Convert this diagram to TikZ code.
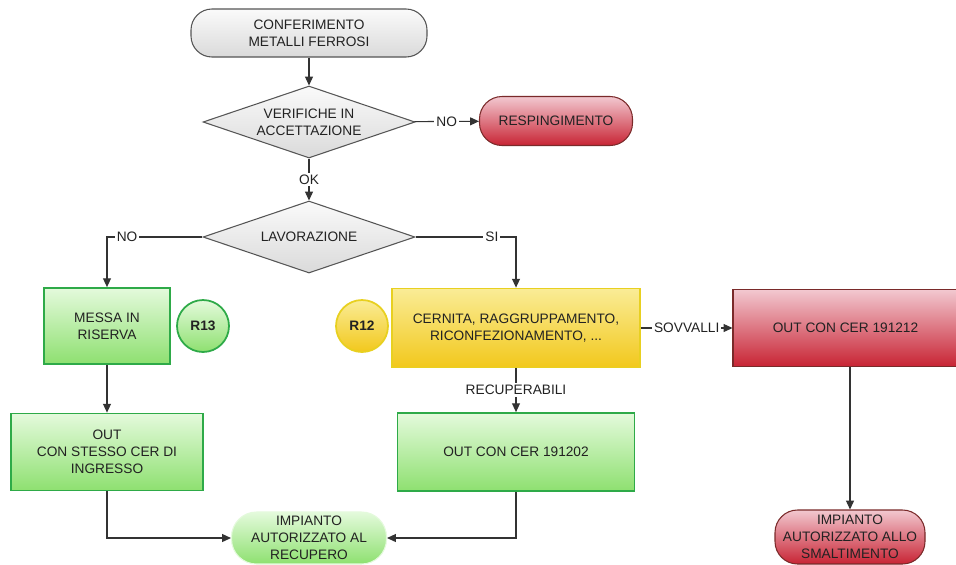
\documentclass[tikz,border=0pt]{standalone}
\usepackage{fontspec}
\setmainfont{Liberation Sans}
\usetikzlibrary{shapes.geometric,arrows.meta,positioning}
\definecolor{lnc}{HTML}{333333}
\definecolor{grtop}{HTML}{FAFAFA}
\definecolor{grbot}{HTML}{DADADA}
\definecolor{grbd}{HTML}{555555}
\definecolor{gntop}{HTML}{E4FADC}
\definecolor{gnbot}{HTML}{8EE070}
\definecolor{gnbd}{HTML}{2EAA48}
\definecolor{yltop}{HTML}{FAEC96}
\definecolor{ylbot}{HTML}{F2C81C}
\definecolor{ylbd}{HTML}{E8D020}
\definecolor{rdtop}{HTML}{F2C8D0}
\definecolor{rdmid}{HTML}{DA3A4A}
\definecolor{rdbot}{HTML}{C82434}
\definecolor{rdbd}{HTML}{7A2A2A}
\definecolor{txt}{HTML}{222222}
\tikzset{
  base/.style={font=\fontsize{7.8}{9.8}\selectfont, text=txt, align=center, inner sep=0pt, line width=0.6pt},
  term/.style={base, draw=grbd, top color=grtop, bottom color=grbot, rounded corners=0.42cm},
  dec/.style={base, diamond, aspect=2.94, draw=grbd, top color=grtop, bottom color=grbot, minimum width=4.24cm, minimum height=1.44cm},
  redterm/.style={base, draw=rdbd, top color=rdtop, middle color=rdmid, bottom color=rdbot, rounded corners=0.45cm},
  redbox/.style={base, draw=rdbd, top color=rdtop, middle color=rdmid, bottom color=rdbot},
  gbox/.style={base, draw=gnbd, line width=1pt, top color=gntop, bottom color=gnbot},
  gterm/.style={base, draw=gntop, top color=gntop, bottom color=gnbot, rounded corners=0.5cm},
  ybox/.style={base, draw=ylbd, line width=1pt, top color=yltop, bottom color=ylbot},
  gcirc/.style={base, circle, font=\fontsize{7.8}{9.8}\selectfont\bfseries, draw=gnbd, line width=1pt, top color=gntop, bottom color=gnbot, minimum size=1.04cm},
  ycirc/.style={base, circle, font=\fontsize{7.8}{9.8}\selectfont\bfseries, draw=ylbd, line width=1pt, top color=yltop, bottom color=ylbot, minimum size=1.04cm},
  arr/.style={draw=lnc, line width=0.6pt, -{Triangle[length=5pt,width=4.5pt]}},
  lbl/.style={font=\fontsize{7.8}{9.8}\selectfont, text=txt, fill=white, inner sep=1.2pt}
}
\begin{document}
\begin{tikzpicture}
\useasboundingbox[fill=white] (0,0) rectangle (19.12,-11.28);
\node[term, minimum width=4.72cm, minimum height=0.96cm] (conf) at (6.18,-0.66) {CONFERIMENTO\\METALLI FERROSI};
\node[dec] (ver) at (6.18,-2.44) {VERIFICHE IN\\ACCETTAZIONE};
\node[redterm, minimum width=3.06cm, minimum height=0.98cm] (resp) at (11.12,-2.42) {RESPINGIMENTO};
\node[dec] (lav) at (6.18,-4.74) {LAVORAZIONE};
\node[gbox, minimum width=2.52cm, minimum height=1.52cm] (messa) at (2.14,-6.52) {MESSA IN\\RISERVA};
\node[gcirc] (r13) at (4.06,-6.52) {R13};
\node[ycirc] (r12) at (7.24,-6.52) {R12};
\node[ybox, minimum width=4.96cm, minimum height=1.58cm] (cern) at (10.32,-6.56) {CERNITA, RAGGRUPPAMENTO,\\RICONFEZIONAMENTO, ...};
\node[redbox, minimum width=4.5cm, minimum height=1.54cm] (sov) at (16.91,-6.56) {OUT CON CER 191212};
\node[gbox, minimum width=4.74cm, minimum height=1.56cm] (rec) at (10.32,-9.04) {OUT CON CER 191202};
\node[gbox, minimum width=3.84cm, minimum height=1.54cm] (stesso) at (2.14,-9.04) {OUT\\CON STESSO CER DI\\INGRESSO};
\node[gterm, minimum width=3.1cm, minimum height=1.04cm] (imprec) at (6.18,-10.76) {IMPIANTO\\AUTORIZZATO AL\\RECUPERO};
\node[redterm, minimum width=3.0cm, minimum height=1.08cm] (smal) at (17.0,-10.74) {IMPIANTO\\AUTORIZZATO ALLO\\SMALTIMENTO};
\draw[arr] (conf) -- (ver);
\draw[arr] (ver) -- node[lbl]{NO} (resp);
\draw[arr] (ver) -- node[lbl]{OK} (lav);
\draw[arr] (lav.west) -- node[lbl,pos=0.79]{NO} (lav.west -| messa) -- (messa.north);
\draw[arr] (lav.east) -- node[lbl,pos=0.76]{SI} (lav.east -| cern) -- (cern.north);
\draw[arr] (messa) -- (stesso);
\draw[arr] (cern) -- node[lbl]{RECUPERABILI} (rec);
\draw[arr] (cern) -- node[lbl]{SOVVALLI} (sov);
\draw[arr] (stesso.south) |- (imprec.west);
\draw[arr] (rec.south) |- (imprec.east);
\draw[arr] (sov.south -| smal) -- (smal.north);
\end{tikzpicture}
\end{document}
